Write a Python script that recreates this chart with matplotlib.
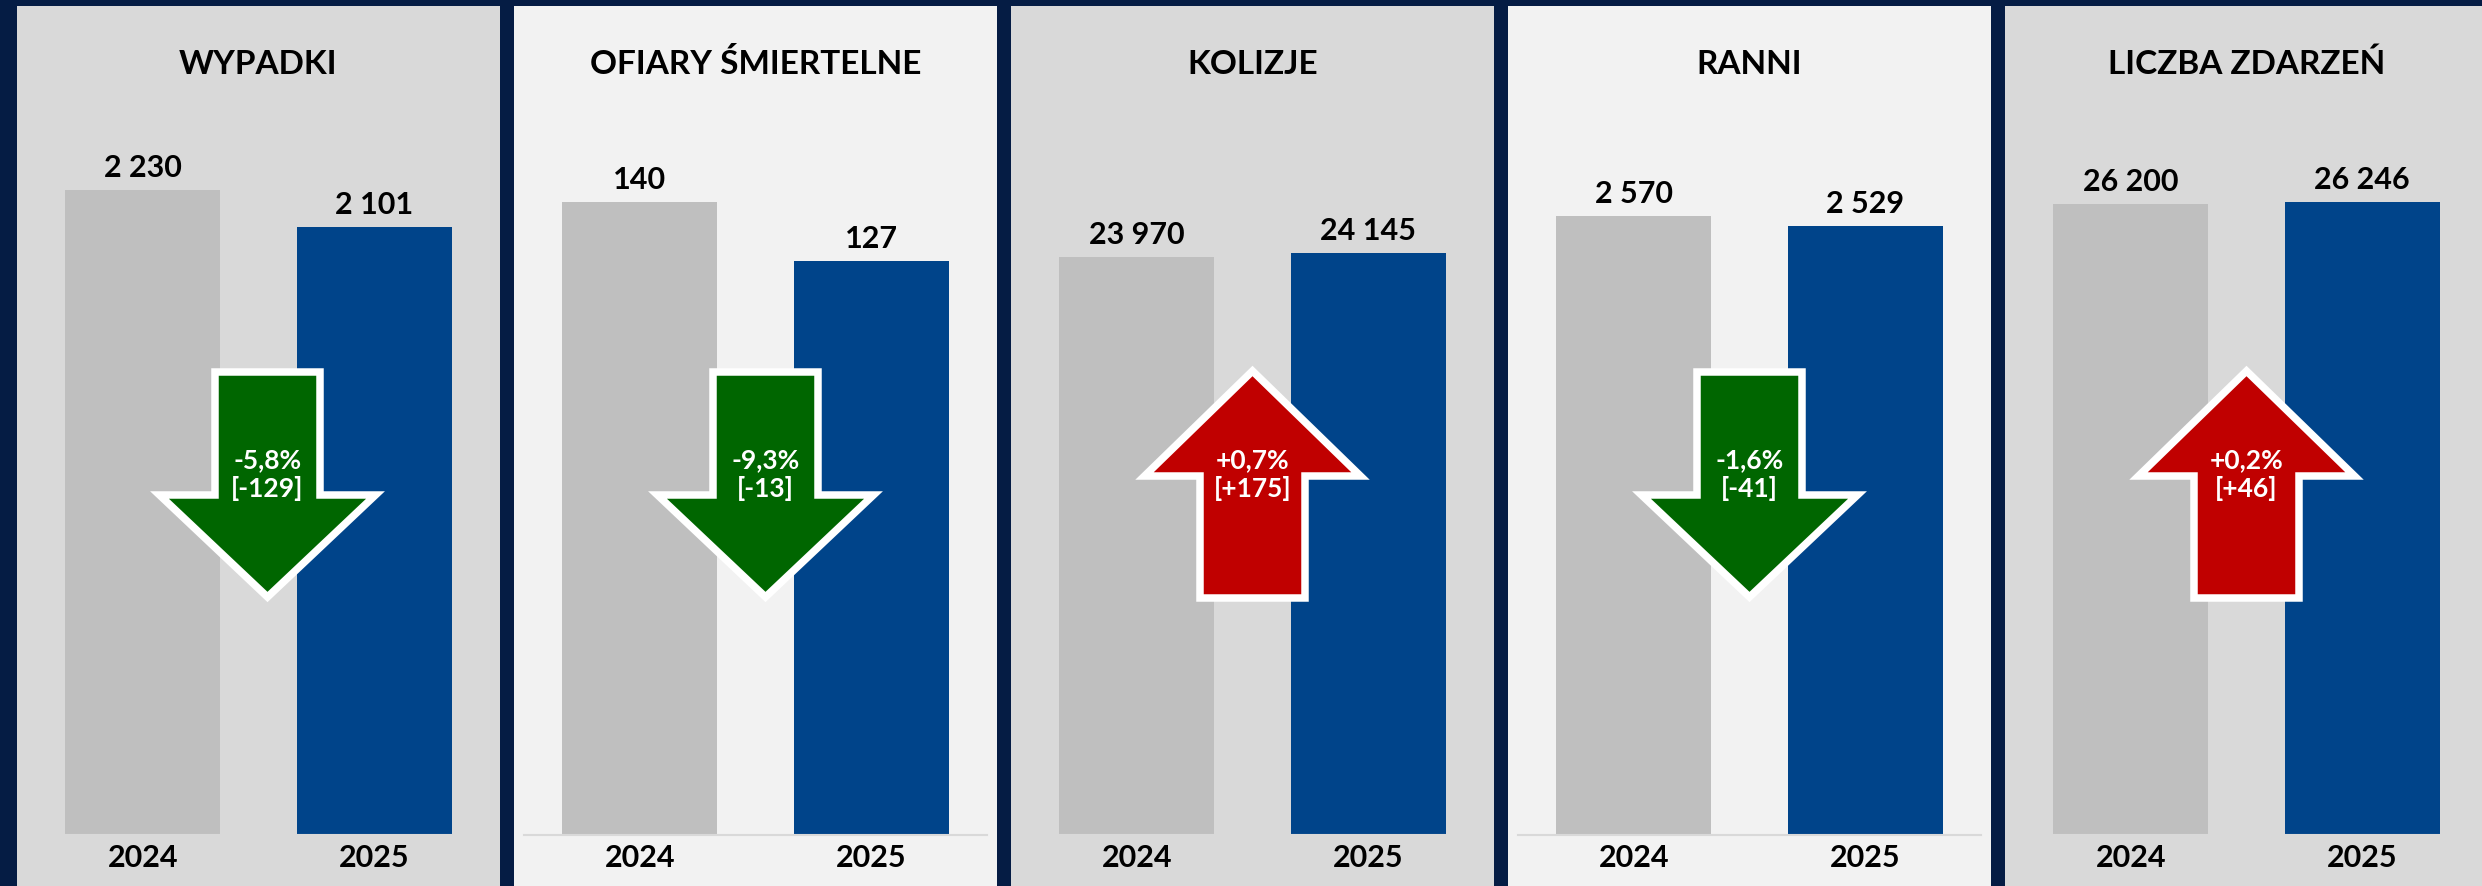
import matplotlib.pyplot as plt
from matplotlib.patches import Polygon
from matplotlib.transforms import ScaledTranslation

titles = ['WYPADKI', 'OFIARY ŚMIERTELNE', 'KOLIZJE', 'RANNI', 'LICZBA ZDARZEŃ']
years = ['2024', '2025']
values_2024 = [2230, 140, 23970, 2570, 26200]
values_2025 = [2101, 127, 24145, 2529, 26246]
axis_max = [2500, 160, 30000, 3000, 30000]

NAVY = '#051c44'
PANEL_BG = ['#d9d9d9', '#f2f2f2', '#d9d9d9', '#f2f2f2', '#d9d9d9']
BAR_GREY = '#bfbfbf'
BAR_BLUE = '#00448a'
GREEN = '#006600'
RED = '#c00000'

plt.rcParams['font.family'] = ['Lato', 'DejaVu Sans']

# layout in pixels of the 2482x887 output
W, H, DPI = 2482, 887, 100
PANEL_X0, PITCH, PANEL_W, PANEL_TOP = 17, 497, 483, 7
PLOT_TOP, PLOT_BASE, INSET = 113, 836, 10
ARROW_DX = [9, 10, 0, 0, 0]  # arrows in the first two panels sit a bit right of centre
PT = 72.0 / DPI  # points per pixel


def fmt(v):
    return f'{v:,}'.replace(',', ' ')


def pct_label(a, b):
    p = (b - a) / a * 100
    d = b - a
    return f'{p:+.1f}%'.replace('.', ','), f'[{d:+d}]'


# arrow outlines, pixels relative to (category midpoint, baseline)
DOWN = [(-52.5, 463), (52.5, 463), (52.5, 340), (108, 340), (0, 238), (-108, 340), (-52.5, 340)]
UP = [(-52.5, 237), (52.5, 237), (52.5, 359), (108, 359), (0, 464), (-108, 359), (-52.5, 359)]

fig = plt.figure(figsize=(W / DPI, H / DPI), dpi=DPI, facecolor=NAVY)

for i, title in enumerate(titles):
    left = PANEL_X0 + i * PITCH

    bg = fig.add_axes([left / W, 0, PANEL_W / W, (H - PANEL_TOP) / H])
    bg.set_facecolor(PANEL_BG[i])
    bg.set_xticks([])
    bg.set_yticks([])
    for s in bg.spines.values():
        s.set_visible(False)

    fig.text((left + PANEL_W / 2) / W, 1 - 74 / H, title, ha='center', va='baseline',
             fontsize=24, fontweight='bold', color='black')

    ax = fig.add_axes([(left + INSET) / W, (H - PLOT_BASE) / H,
                       (PANEL_W - 2 * INSET) / W, (PLOT_BASE - PLOT_TOP) / H])
    ax.patch.set_alpha(0)
    vals = [values_2024[i], values_2025[i]]
    ax.bar([0, 1], vals, width=0.67, color=[BAR_GREY, BAR_BLUE], zorder=2)
    ax.set_xlim(-0.5, 1.5)
    ax.set_ylim(0, axis_max[i])
    ax.set_xticks([])
    ax.set_yticks([])
    for s in ['top', 'left', 'right']:
        ax.spines[s].set_visible(False)
    ax.spines['bottom'].set_color('#d9d9d9')
    ax.spines['bottom'].set_linewidth(1.5)

    for x, v, yr in zip([0, 1], vals, years):
        ax.annotate(fmt(v), (x, v), xytext=(0, 14 * PT), textcoords='offset points',
                    ha='center', va='baseline', fontsize=22, fontweight='bold')
        ax.annotate(yr, (x, 0), xytext=(0, -31 * PT), textcoords='offset points',
                    ha='center', va='baseline', fontsize=22, fontweight='bold',
                    annotation_clip=False)

    # change arrow between the bars
    up = vals[1] > vals[0]
    shape = UP if up else DOWN
    dx = ARROW_DX[i]
    tr = fig.dpi_scale_trans + ScaledTranslation(0.5, 0, ax.transData)
    verts = [((x + dx) / DPI, y / DPI) for x, y in shape]
    arrow = Polygon(verts, closed=True, transform=tr, facecolor=RED if up else GREEN,
                    edgecolor='white', linewidth=7.5 * PT, joinstyle='miter', zorder=5,
                    clip_on=False)
    ax.add_patch(arrow)
    l1, l2 = pct_label(*vals)
    for txt, yoff in [(l1, 368), (l2, 339)]:
        ax.annotate(txt, (0.5, 0), xytext=(dx * PT, yoff * PT), textcoords='offset points',
                    ha='center', va='baseline', fontsize=19, fontweight='bold',
                    color='white', zorder=6)

fig.savefig('out.png', dpi=DPI, facecolor=NAVY)
